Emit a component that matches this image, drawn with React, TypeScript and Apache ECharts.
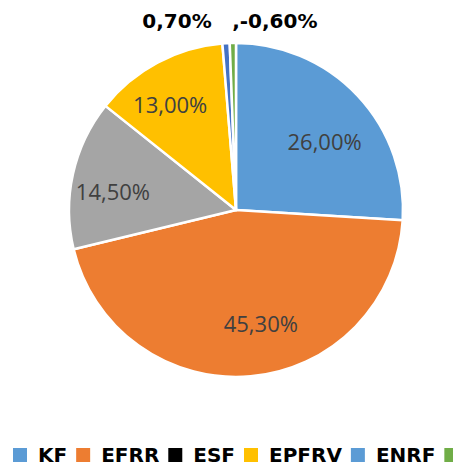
import React, { useEffect, useRef } from "react";
import * as echarts from "echarts";

const categories = ["KF", "EFRR", "ESF", "EPFRV", "ENRF", " "];
const values = [26.0, 45.3, 14.5, 13.0, 0.7, 0.6];
const labelTexts = ["26,00%", "45,30%", "14,50%", "13,00%", "0,70%", ",-0,60%"];
const sliceColors = ["#5B9BD5", "#ED7D31", "#A5A5A5", "#FFC000", "#4472C4", "#70AD47"];
const legendColors = ["#5B9BD5", "#ED7D31", "#000000", "#FFC000", "#5B9BD5", "#70AD47"];
const outsideIdx = [4, 5];
const outsideLen2 = [8, -90];
// nudges that move the inside labels to Excel's "best fit" spots
const labelShiftX = [-1, 14, -3, -8, 0, 0];
const labelShiftY = [15, -10, 8, 3, 0, 0];

export default function App() {
  const ref = useRef<HTMLDivElement>(null);
  useEffect(() => {
    if (!ref.current) return;
    const chart = echarts.init(ref.current, undefined, { renderer: "svg" });
    const boldFont = { fontFamily: "DejaVu Sans", fontWeight: "bold" as const, fontSize: 20, color: "#000" };
    const mainData = categories.map((c, i) => {
      const o = outsideIdx.indexOf(i);
      const item: any = {
        name: c,
        value: values[i],
        itemStyle: { color: sliceColors[i] },
      };
      if (o >= 0) {
        item.label = { show: true, position: "outside", formatter: labelTexts[i], ...boldFont };
        item.labelLine = { show: false, length: 22, length2: outsideLen2[o] };
      } else {
        item.label = { show: false };
        item.labelLine = { show: false };
      }
      return item;
    });
    const labelData = categories.map((c, i) => {
      const sx = labelShiftX[i];
      const sy = labelShiftY[i];
      const txt = sy > 0 ? "\n" + labelTexts[i] : sy < 0 ? labelTexts[i] + "\n" : labelTexts[i];
      const label: any = {
        show: outsideIdx.indexOf(i) < 0,
        formatter: txt,
        padding: [0, sx < 0 ? -2 * sx : 0, 0, sx > 0 ? 2 * sx : 0],
      };
      if (sy !== 0) label.lineHeight = 2 * Math.abs(sy);
      return { name: c, value: values[i], label };
    });
    chart.setOption({
      animation: false,
      legend: {
        show: true,
        left: 13,
        top: 445,
        padding: 0,
        width: 1200,
        orient: "horizontal",
        icon: "rect",
        itemWidth: 14,
        itemHeight: 14,
        itemGap: 9,
        selectedMode: false,
        itemStyle: { borderWidth: 0, borderColor: "transparent" },
        textStyle: { fontFamily: "DejaVu Sans", fontWeight: "bold", fontSize: 20, color: "#000", padding: [0, 0, 0, 6] },
        data: categories.map((c, i) => ({
          name: c,
          itemStyle: { color: legendColors[i], borderColor: legendColors[i], borderWidth: 0 },
        })),
      },
      series: [
        {
          type: "pie",
          center: [236, 210],
          radius: [0, 167],
          startAngle: 90,
          clockwise: true,
          avoidLabelOverlap: false,
          silent: true,
          itemStyle: { borderColor: "#fff", borderWidth: 2.5 },
          data: mainData,
        },
        {
          type: "pie",
          center: [236, 210],
          radius: [80, 160],
          startAngle: 90,
          clockwise: true,
          silent: true,
          avoidLabelOverlap: false,
          itemStyle: { color: "rgba(0,0,0,0)", borderWidth: 0 },
          label: {
            position: "inside",
            fontFamily: "Open Sans",
            fontSize: 22,
            color: "#404040",
          },
          labelLine: { show: false },
          data: labelData,
        },
      ],
    });
    return () => chart.dispose();
  }, []);
  return (
    <div
      ref={ref}
      style={{ position: "fixed", left: 0, top: 0, width: 453, height: 464, background: "#fff" }}
    />
  );
}
